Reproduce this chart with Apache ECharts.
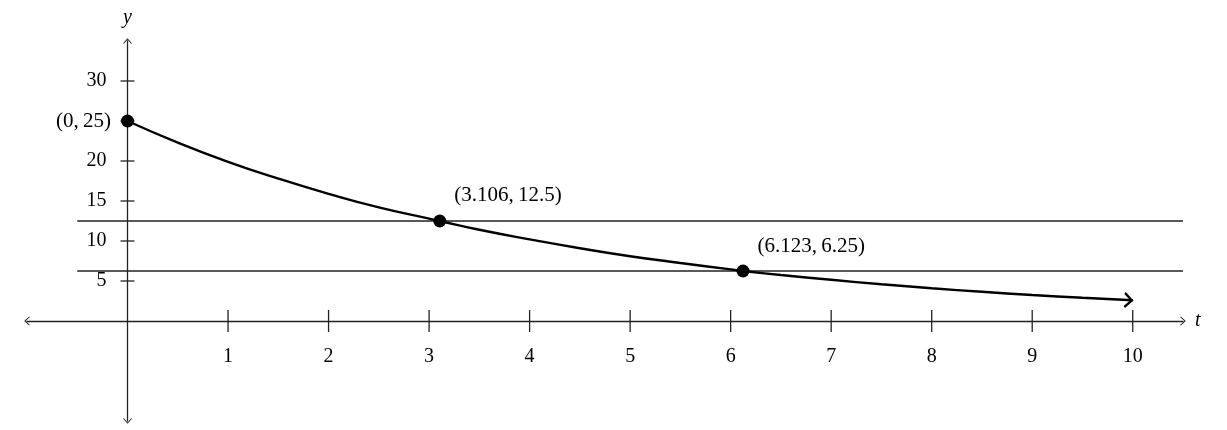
<!DOCTYPE html>
<html>
<head>
<meta charset="utf-8">
<script src="https://cdn.jsdelivr.net/npm/echarts@6/dist/echarts.min.js"></script>
<style>
html,body{margin:0;padding:0;background:#fff;}
#chart{width:1227px;height:430px;}
</style>
</head>
<body>
<div id="chart"></div>
<script>
// values
var tTicks = [1, 2, 3, 4, 5, 6, 7, 8, 9, 10];
var yTicks = [5, 10, 15, 20, 25, 30];
var yLabels = [5, 10, 15, 20, 30]; // 25 is covered by the (0,25) label
var curveT = [0, 0.5, 1, 1.5, 2, 2.5, 3, 3.106, 3.5, 4, 4.5, 5, 5.5, 6, 6.123, 6.5, 7, 7.5, 8, 8.5, 9, 9.5, 10];
var curveY = [25, 22.3, 19.9, 17.8, 15.9, 14.2, 12.8, 12.5, 11.4, 10.2, 9.1, 8.1, 7.25, 6.45, 6.25, 5.75, 5.15, 4.6, 4.1, 3.65, 3.25, 2.9, 2.6];
var pointT = [0, 3.106, 6.123];
var pointY = [25, 12.5, 6.25];
var pointText = ['(0,\u200925)', '(3.106,\u200912.5)', '(6.123,\u20096.25)'];
var levelY = [12.5, 6.25];
var levelFrom = -0.5, levelTo = 10.5;
var xMin = -1, xMax = 10.5;
var yMin = -12.5, yMax = 35;

var W = 1227, H = 430;
var gLeft = 27, gRight = 44, gTop = 41, gBottom = 9;
// move the axes onto the zero lines (onZero leaves labels at the grid edge in v6)
var yAxisOffset = -(0 - xMin) / (xMax - xMin) * (W - gLeft - gRight);
var xAxisOffset = -(0 - yMin) / (yMax - yMin) * (H - gTop - gBottom);

var font = 'Liberation Serif, DejaVu Serif, serif';
var chevUp = 'path://M0,5 L4.5,0 L9,5 L8.2,5.6 L4.5,1.4 L0.8,5.6 Z';
var chevBold = 'path://M0,8 L7.5,0 L15,8 L13.2,9.4 L7.5,3.2 L1.8,9.4 Z';

var chart = echarts.init(document.getElementById('chart'));

var curveData = [];
for (var i = 0; i < curveT.length; i++) {
    curveData.push([curveT[i], curveY[i]]);
}
var pointData = [];
for (var i = 0; i < pointT.length; i++) {
    pointData.push({value: [pointT[i], pointY[i]], label: {formatter: pointText[i]}});
}
// first label sits to the left of its dot, the others up-right
pointData[0].label.position = 'left';
pointData[0].label.distance = 10;
pointData[1].label.position = 'right';
pointData[1].label.offset = [0, -26];
pointData[2].label.position = 'right';
pointData[2].label.offset = [0, -25];

var levelSeries = [];
for (var i = 0; i < levelY.length; i++) {
    levelSeries.push({
        type: 'line',
        data: [[levelFrom, levelY[i]], [levelTo, levelY[i]]],
        symbol: 'none',
        lineStyle: {color: '#222', width: 1.3},
        z: 2
    });
}

var xTickMarks = tTicks.map(function (t) { return [t, 0]; });
var yTickMarks = yTicks.map(function (y) { return [0, y]; });
var last = curveData[curveData.length - 1];

var option = {
    animation: false,
    backgroundColor: '#fff',
    grid: {left: gLeft, right: gRight, top: gTop, bottom: gBottom, containLabel: false, outerBoundsMode: 'none'},
    xAxis: {
        type: 'value',
        min: xMin,
        max: xMax,
        position: 'bottom',
        offset: xAxisOffset,
        name: 't',
        nameLocation: 'end',
        nameGap: 12,
        nameTextStyle: {fontFamily: font, fontStyle: 'italic', fontSize: 20, color: '#000'},
        axisLine: {
            onZero: false,
            lineStyle: {color: '#222', width: 1.3},
            symbol: [chevUp, chevUp],
            symbolSize: [10, 5.5]
        },
        axisTick: {show: false},
        splitLine: {show: false},
        axisLabel: {
            customValues: tTicks,
            margin: 26,
            fontFamily: font,
            fontSize: 20,
            color: '#000'
        }
    },
    yAxis: {
        type: 'value',
        min: yMin,
        max: yMax,
        position: 'left',
        offset: yAxisOffset,
        name: 'y',
        nameLocation: 'end',
        nameGap: 13,
        nameTextStyle: {fontFamily: font, fontStyle: 'italic', fontSize: 20, color: '#000', align: 'center'},
        axisLine: {
            onZero: false,
            lineStyle: {color: '#222', width: 1.3},
            symbol: [chevUp, chevUp],
            symbolSize: [10, 5.5]
        },
        axisTick: {show: false},
        splitLine: {show: false},
        axisLabel: {
            customValues: yLabels,
            margin: 21,
            fontFamily: font,
            fontSize: 20,
            color: '#000'
        }
    },
    series: levelSeries.concat([
        {
            type: 'scatter',
            data: xTickMarks,
            symbol: 'rect',
            symbolSize: [1.3, 22],
            itemStyle: {color: '#222', opacity: 1},
            silent: true,
            z: 3
        },
        {
            type: 'scatter',
            data: yTickMarks,
            symbol: 'rect',
            symbolSize: [14, 1.3],
            itemStyle: {color: '#222', opacity: 1},
            silent: true,
            z: 3
        },
        {
            type: 'line',
            data: curveData,
            smooth: true,
            symbol: 'none',
            lineStyle: {color: '#000', width: 2.4},
            z: 4
        },
        {
            // arrow head at the end of the curve
            type: 'scatter',
            data: [last],
            symbol: chevBold,
            symbolSize: [16, 9.5],
            symbolRotate: -93,
            symbolOffset: [-4, 0],
            itemStyle: {color: '#000', opacity: 1},
            z: 5
        },
        {
            type: 'scatter',
            data: pointData,
            symbolSize: 13,
            itemStyle: {color: '#000', opacity: 1},
            label: {
                show: true,
                distance: 8,
                fontFamily: font,
                fontSize: 21,
                color: '#000'
            },
            z: 6
        }
    ])
};
chart.setOption(option);
</script>
</body>
</html>
